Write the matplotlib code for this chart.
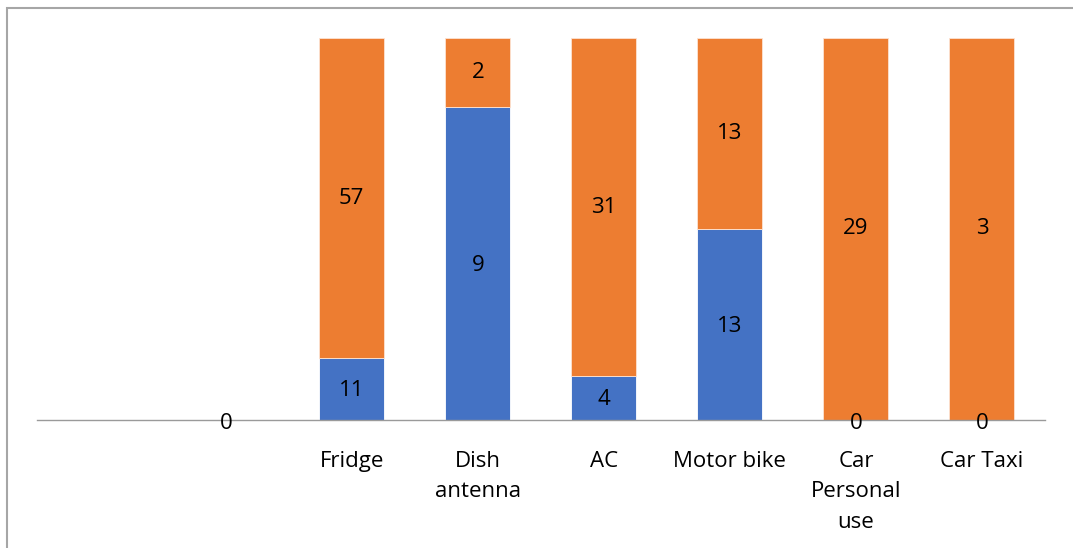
import numpy as np
import matplotlib.pyplot as plt
from matplotlib.patches import Rectangle

# ---------- data ----------
categories = ["", "", "Fridge", "Dish\nantenna", "AC", "Motor bike", "Car\nPersonal\nuse", "Car Taxi"]
blue_vals = [np.nan, 0, 11, 9, 4, 13, 0, 0]
orange_vals = [np.nan, np.nan, 57, 2, 31, 13, 29, 3]

blue = np.array(blue_vals, dtype=float)
orange = np.array(orange_vals, dtype=float)
total = np.nansum(np.vstack([blue, orange]), axis=0)
safe = np.where(total > 0, total, 1)
blue_frac = np.where(total > 0, np.nan_to_num(blue) / safe, 0)
orange_frac = np.where(total > 0, np.nan_to_num(orange) / safe, 0)

# ---------- plotting ----------
plt.rcParams['font.family'] = ['Open Sans', 'DejaVu Sans']
W, H = 1073, 548
fig = plt.figure(figsize=(W / 100, H / 100), dpi=100)
ax = fig.add_axes([36.7 / W, (H - 420) / H, (1045 - 36.7) / W, 382 / H])

fs = 16
x = np.arange(len(categories))
c_blue, c_orange = '#4472C4', '#ED7D31'
bw = 0.516

ax.bar(x, blue_frac, width=bw, color=c_blue, edgecolor='#ffffff', linewidth=0.6)
ax.bar(x, orange_frac, width=bw, bottom=blue_frac, color=c_orange, edgecolor='#fde3d2', linewidth=0.6)

# data labels
for i in range(len(x)):
    if not np.isnan(blue[i]):
        off = -0.01 if blue[i] == 0 else -0.004
        ax.text(x[i], blue_frac[i] / 2 + off, f"{int(blue[i])}", ha='center', va='center',
                fontsize=fs, color='black')
    if not np.isnan(orange[i]):
        ax.text(x[i], blue_frac[i] + orange_frac[i] / 2, f"{int(orange[i])}", ha='center',
                va='center', fontsize=fs, color='black')

ax.set_xlim(-0.5, len(x) - 0.5)
ax.set_ylim(0, 1)
ax.set_xticks(x)
ax.set_xticklabels(categories, fontsize=fs, linespacing=1.6)
ax.tick_params(axis='x', length=0, pad=22)
ax.set_yticks([])
for s in ['top', 'right', 'left']:
    ax.spines[s].set_visible(False)
ax.spines['bottom'].set_color('#9a9a9a')
ax.spines['bottom'].set_linewidth(1.0)
ax.set_facecolor('none')

# outer chart border
fig.patches.append(Rectangle((7 / W, -0.1), 1.2, 1 - 8 / H + 0.1, transform=fig.transFigure,
                             fill=False, edgecolor='#a6a6a6', linewidth=1.5))

plt.savefig('out.png', dpi=100)
